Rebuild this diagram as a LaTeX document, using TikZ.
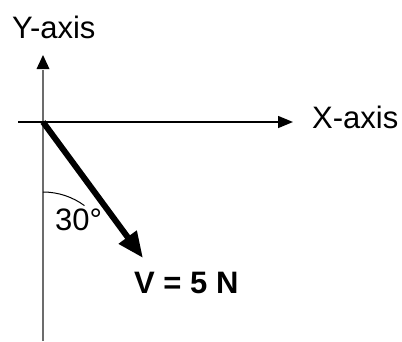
\documentclass[tikz,border=0pt]{standalone}
\usepackage{fontspec}
\setmainfont{Liberation Sans}
\usetikzlibrary{arrows.meta}
\begin{document}
\begin{tikzpicture}[x=1pt,y=-1pt,
  lbl/.style={inner sep=0pt,anchor=base west,font=\fontsize{31}{36}\selectfont},
  axisline/.style={line width=1.5pt}]
\useasboundingbox (0,0) rectangle (402,341);
\coordinate (O) at (43,122);
\coordinate (ytop) at (43,55);
\coordinate (ybot) at (43,341);
\coordinate (xl) at (18,122);
\coordinate (xr) at (293,122);
\coordinate (vtip) at (143,258);
% vertical axis
\draw[line width=2.5pt,gray!85!black] (ybot) -- (43,70);
\fill[black] (ytop) -- (36.5,69) -- (49.5,69) -- cycle;
% horizontal axis
\draw[axisline,-{Triangle[length=15pt,width=12pt]}] (xl) -- (xr);
% vector
\draw[line width=6pt,-{Triangle[length=26pt,width=21pt]}] (O) -- (vtip);
% angle arc
\draw[line width=1pt] (43,192) arc[start angle=-90,end angle=-53.7,radius=70];
% labels
\node[lbl] (ylab) at (12,38) {Y-axis};
\node[lbl] (xlab) at (312,128) {X-axis};
\node[lbl] (ang) at (55,230) {30°};
\node[lbl,font=\fontsize{31}{36}\selectfont\bfseries] (vlab) at (134,293) {V = 5 N};
\end{tikzpicture}
\end{document}
